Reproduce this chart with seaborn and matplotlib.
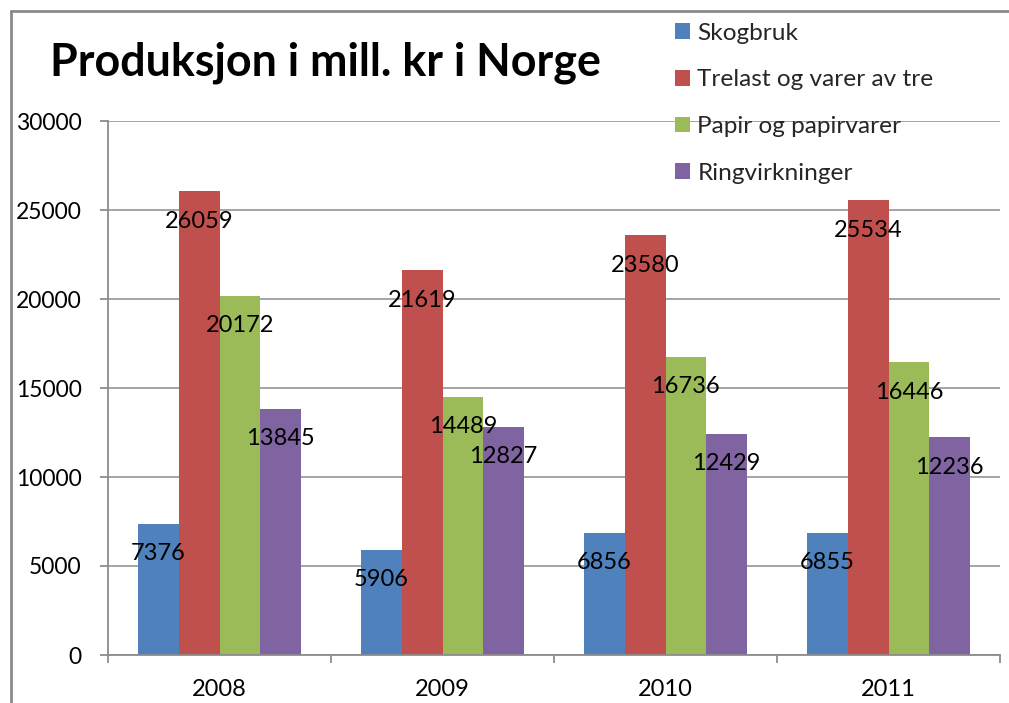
import matplotlib
matplotlib.use("Agg")
import matplotlib.pyplot as plt
from matplotlib.patches import Patch
from matplotlib.lines import Line2D
import seaborn as sns
import pandas as pd

years = ["2008", "2009", "2010", "2011"]
series = ["Skogbruk", "Trelast og varer av tre", "Papir og papirvarer", "Ringvirkninger"]
skogbruk = [7376, 5906, 6856, 6855]
trelast = [26059, 21619, 23580, 25534]
papir = [20172, 14489, 16736, 16446]
ringvirkninger = [13845, 12827, 12429, 12236]
colors = ["#4F81BD", "#C0504D", "#9BBB59", "#8064A2"]
y_ticks = [0, 5000, 10000, 15000, 20000, 25000, 30000]

values = [skogbruk, trelast, papir, ringvirkninger]
df = pd.DataFrame(
    [(y, s, v) for s, vals in zip(series, values) for y, v in zip(years, vals)],
    columns=["År", "Serie", "Verdi"],
)

sns.set_theme(style="white")
plt.rcParams["font.family"] = ["Lato", "DejaVu Sans"]

W, H = 1009, 703
fig = plt.figure(figsize=(W / 100, H / 100), dpi=100)
ax = fig.add_axes([108 / W, 1 - 655 / H, (1000 - 108) / W, (655 - 121) / H])

sns.barplot(
    data=df, x="År", y="Verdi", hue="Serie", order=years, hue_order=series,
    palette=colors, width=0.73, saturation=1, errorbar=None, ax=ax, legend=False,
    linewidth=0, edgecolor="none",
)

ax.set_ylim(0, 30000)
ax.set_xlim(-0.5, 3.5)
ax.set_yticks(y_ticks)
ax.set_yticklabels([str(t) for t in y_ticks])
ax.set_xlabel("")
ax.set_ylabel("")

grid_c = "#8C8C8C"
ax.yaxis.grid(True, color=grid_c, linewidth=1.1)
ax.set_axisbelow(True)
for side in ["top", "right"]:
    ax.spines[side].set_visible(False)
for side in ["left", "bottom"]:
    ax.spines[side].set_color(grid_c)
    ax.spines[side].set_linewidth(1.3)

# category boundaries as major ticks, year labels as minor ticks
ax.set_xticks([-0.5, 0.5, 1.5, 2.5, 3.5])
ax.set_xticklabels([])
ax.set_xticks(range(len(years)), minor=True)
ax.set_xticklabels(years, minor=True)
ax.tick_params(axis="x", which="major", direction="out", length=6, width=1.3,
               color=grid_c, bottom=True)
ax.tick_params(axis="x", which="minor", length=0, pad=17, labelsize=17, labelcolor="black")
ax.tick_params(axis="y", direction="out", length=6, width=1.3, color=grid_c,
               left=True, pad=13, labelsize=16.5, labelcolor="black")

# value labels just inside the top of each bar
for container in ax.containers:
    for rect in container:
        h = rect.get_height()
        ax.annotate(f"{int(round(h))}", xy=(rect.get_x() + rect.get_width() / 2, h),
                    xytext=(0, -21.5), textcoords="offset points",
                    ha="center", va="center", fontsize=17, color="black")

fig.text(50 / W, 1 - 75 / H, "Produksjon i mill. kr i Norge", fontsize=32.3,
         fontweight="bold", ha="left", va="baseline", color="black")

handles = [Patch(facecolor=c, edgecolor="none") for c in colors]
fig.legend(handles, series, loc="upper left", bbox_to_anchor=(665 / W, 1 - 13 / H),
           frameon=False, fontsize=17.6, handlelength=0.62, handleheight=0.62,
           handletextpad=0.3, labelspacing=1.05, borderaxespad=0)

# outer chart frame
frame_c = "#8A8A8A"
fig.add_artist(Line2D([11 / W, 11 / W], [0, 1 - 11 / H], transform=fig.transFigure,
                      color=frame_c, linewidth=2))
fig.add_artist(Line2D([11 / W, 1], [1 - 11 / H, 1 - 11 / H], transform=fig.transFigure,
                      color=frame_c, linewidth=2))

fig.savefig("out.png", dpi=100, facecolor="white")
